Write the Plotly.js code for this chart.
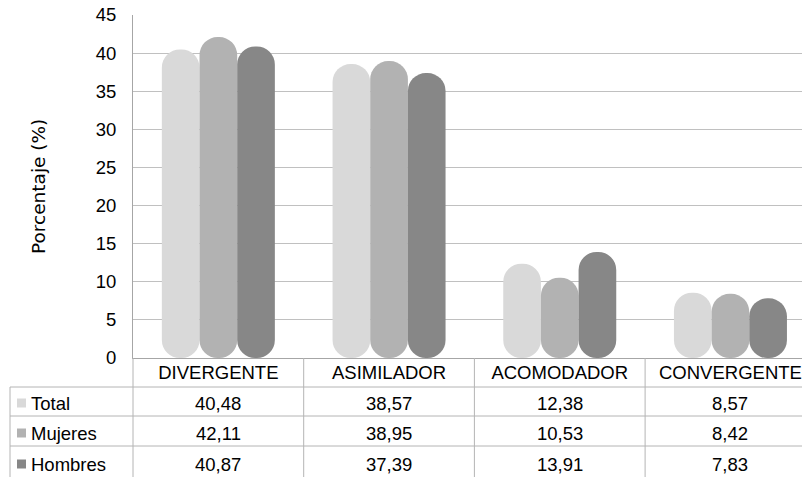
<!DOCTYPE html>
<html>
<head>
<meta charset="utf-8">
<script src="https://cdn.plot.ly/plotly-3.0.1.min.js"></script>
<style>html,body{margin:0;padding:0;background:#fff;}#chart{width:802px;height:477px;}</style>
</head>
<body>
<div id="chart"></div>
<script>
// ---- data ----
const categories = ['DIVERGENTE', 'ASIMILADOR', 'ACOMODADOR', 'CONVERGENTE'];
const seriesNames = ['Total', 'Mujeres', 'Hombres'];
const total   = [40.48, 38.57, 12.38, 8.57];
const mujeres = [42.11, 38.95, 10.53, 8.42];
const hombres = [40.87, 37.39, 13.91, 7.83];
const yTickVals = [0, 5, 10, 15, 20, 25, 30, 35, 40, 45];
const yTitle = 'Porcentaje (%)';

// ---- styling / layout helpers ----
const seriesValues = [total, mujeres, hombres];
const colors = ['#d9d9d9', '#b2b2b2', '#878787'];
const L = 133, R = 802, T = 15, B = 358, W = 802, H = 477;
const pw = R - L, ph = B - T;
const px2x = p => (p - L) / pw;
const px2y = p => (B - p) / ph;
const barW = 0.2207;
const offsets = [-0.331, -0.1103, 0.1103];
const fmt = v => v.toFixed(2).replace('.', ',');
const FONT = 'Liberation Sans, Arial, sans-serif';
const FS = 18.5;

const traces = seriesValues.map((vals, s) => ({
  type: 'bar', x: categories, y: vals, base: vals.map(() => 0), name: seriesNames[s],
  width: barW, offset: offsets[s],
  marker: { color: colors[s], line: { width: 0 }, cornerradius: '50%' },
  hoverinfo: 'skip', showlegend: false
}));

const lineCol = '#b4b4b4';
const shapes = [];
const annotations = [];
const rowLines = [387, 416, 446];
const rowText = [403, 433, 464];
rowLines.forEach(p => shapes.push({ type: 'line', xref: 'paper', yref: 'paper',
  x0: px2x(10), x1: 1, y0: px2y(p), y1: px2y(p), line: { color: lineCol, width: 1 } }));
[0.5, 1.5, 2.5].forEach(xv => shapes.push({ type: 'line', xref: 'x', yref: 'paper',
  x0: xv, x1: xv, y0: 0, y1: px2y(H), line: { color: lineCol, width: 1 } }));
shapes.push({ type: 'line', xref: 'paper', yref: 'paper', x0: 0, x1: 0, y0: 0, y1: px2y(H),
  line: { color: lineCol, width: 1 } });
shapes.push({ type: 'line', xref: 'paper', yref: 'paper', x0: px2x(10), x1: px2x(10),
  y0: px2y(387), y1: px2y(H), line: { color: lineCol, width: 1 } });

seriesValues.forEach((vals, s) => {
  shapes.push({ type: 'rect', xref: 'paper', yref: 'paper',
    x0: px2x(17), x1: px2x(26), y0: px2y(rowText[s] - 4.5), y1: px2y(rowText[s] + 4.5),
    fillcolor: colors[s], line: { width: 0 } });
  annotations.push({ xref: 'paper', yref: 'paper', x: px2x(29), y: px2y(rowText[s]),
    xanchor: 'left', yanchor: 'middle', showarrow: false, text: seriesNames[s],
    font: { family: FONT, size: FS, color: '#000' } });
  vals.forEach((v, i) => annotations.push({ xref: 'x', yref: 'paper', x: i, y: px2y(rowText[s]),
    xanchor: 'center', yanchor: 'middle', showarrow: false, text: fmt(v),
    font: { family: FONT, size: FS, color: '#000' } }));
});

annotations.push({ xref: 'paper', yref: 'paper', x: px2x(38), y: px2y(187),
  xanchor: 'center', yanchor: 'middle', showarrow: false, textangle: -90, text: yTitle,
  font: { family: 'DejaVu Sans, sans-serif', size: 18.5, color: '#000' } });

const layout = {
  width: W, height: H,
  margin: { l: L, r: W - R, t: T, b: H - B, pad: 0 },
  paper_bgcolor: '#fff', plot_bgcolor: '#fff',
  barmode: 'overlay', showlegend: false,
  xaxis: {
    type: 'category', range: [-0.5, -0.5 + pw / 170.7], fixedrange: true,
    showgrid: false, zeroline: false, showline: true, linecolor: '#a6a6a6', linewidth: 1,
    ticks: '', ticklabelstandoff: -2,
    tickfont: { family: FONT, size: FS, color: '#000' }
  },
  yaxis: {
    range: [0, 45], tickvals: yTickVals, fixedrange: true,
    showgrid: true, gridcolor: '#c0c0c0', gridwidth: 1,
    zeroline: false, showline: true, linecolor: '#a6a6a6', linewidth: 1,
    ticks: '', ticklabelstandoff: 12,
    tickfont: { family: FONT, size: FS, color: '#000' }
  },
  shapes: shapes,
  annotations: annotations
};

Plotly.newPlot('chart', traces, layout, { displayModeBar: false, staticPlot: true });
</script>
</body>
</html>
